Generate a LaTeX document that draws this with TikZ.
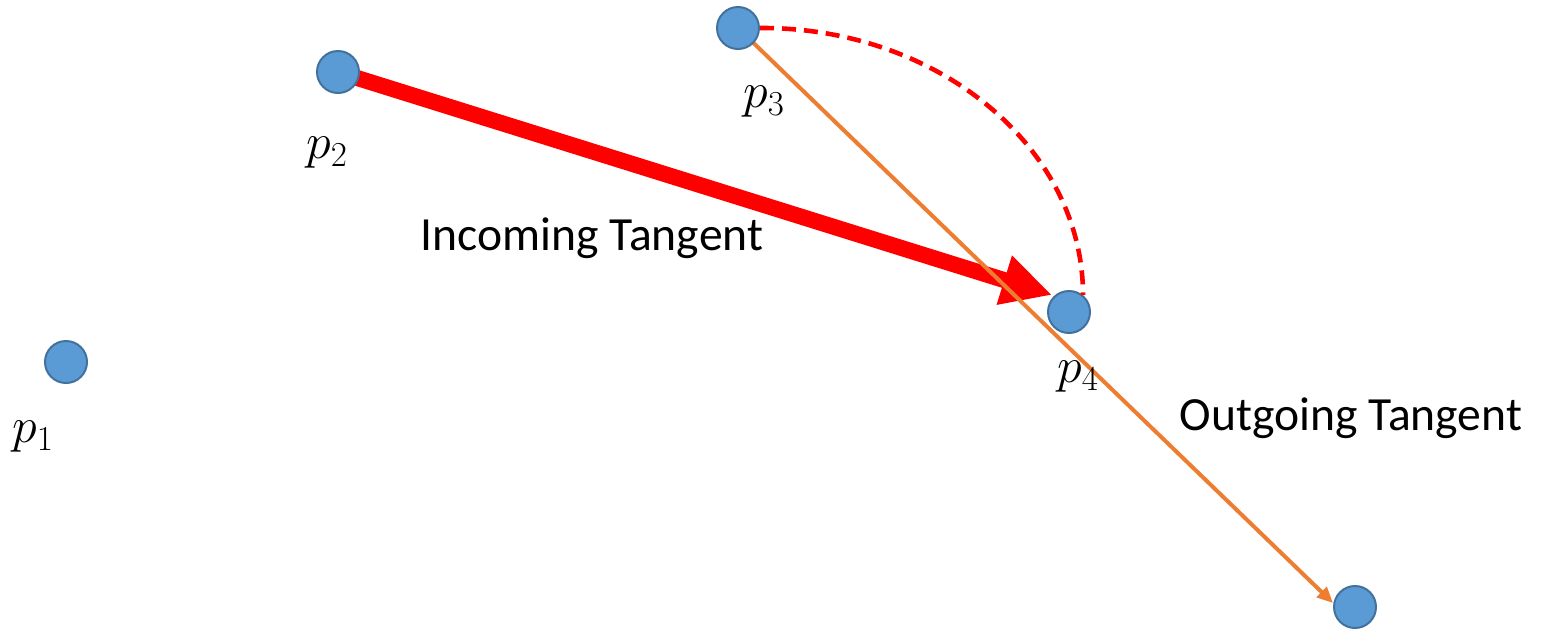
\RequirePackage{fix-cm}
\documentclass[tikz,border=0pt]{standalone}
\usepackage{fontspec}
\setmainfont{Carlito}
\usetikzlibrary{arrows.meta}
\definecolor{ptfill}{HTML}{5B9BD5}
\definecolor{ptdraw}{HTML}{41719C}
\definecolor{orng}{HTML}{ED7D31}
\begin{document}
\begin{tikzpicture}[x=0.5pt,y=-0.5pt,
  pt/.style={circle,fill=ptfill,draw=ptdraw,line width=1pt,inner sep=0pt,minimum size=21pt},
  lbl/.style={font=\fontsize{25}{30}\selectfont,inner sep=0pt},
  txt/.style={font=\fontsize{23.8}{28}\selectfont,inner sep=0pt,anchor=base}]
\useasboundingbox (0,0) rectangle (1542,628);
% coordinates of points
\coordinate (c1) at (66,362);
\coordinate (c2) at (338,72);
\coordinate (c3) at (738,28);
\coordinate (c4) at (1069,312);
\coordinate (c5) at (1355,607);
\coordinate (tipIn) at (1052,295);
\coordinate (tipOut) at (1333,603);
% incoming tangent (thick red arrow)
\draw[red,line width=8pt,-{Triangle[length=25pt,width=24pt]}] (c2) -- (tipIn);
% outgoing tangent (orange arrow)
\draw[orng,line width=2pt,-{Triangle[length=8pt,width=7pt]}] (c3) -- (tipOut);
% points
\node[pt] (p1) at (c1) {};
\node[pt] (p2) at (c2) {};
\node[pt] (p3) at (c3) {};
\node[pt] (p4) at (c4) {};
\node[pt] (p5) at (c5) {};
% dashed arc
\draw[red,line width=2.3pt,dash pattern=on 7pt off 4pt]
  (p3.east) .. controls (937,27) and (1083,147) .. (1083,295);
% labels
\node[lbl] (l1) at (33,437) {$p_1$};
\node[lbl] (l2) at (327,153) {$p_2$};
\node[lbl] (l3) at (764,102) {$p_3$};
\node[lbl] (l4) at (1078,377) {$p_4$};
\node[txt] (tin) at (592,250) {Incoming Tangent};
\node[txt] (tout) at (1351,430) {Outgoing Tangent};
\end{tikzpicture}
\end{document}
